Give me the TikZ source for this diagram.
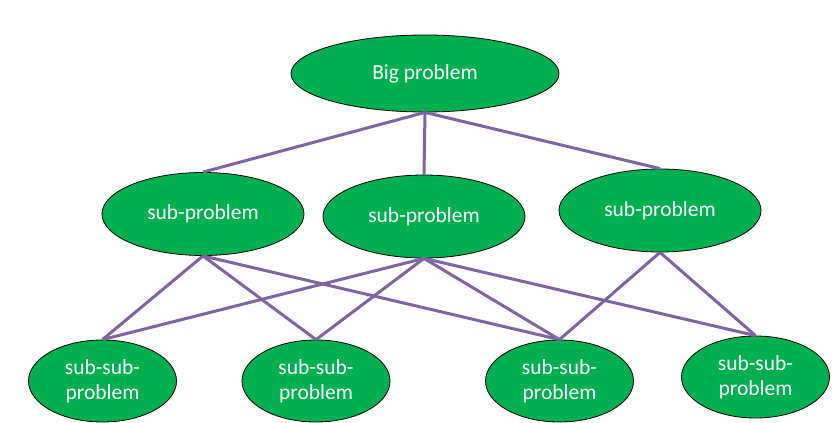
\documentclass[tikz,border=0pt]{standalone}
\usepackage{fontspec}
\setmainfont{Carlito}
\usetikzlibrary{shapes.geometric}
\definecolor{nodegreen}{HTML}{00B050}
\definecolor{linkpurple}{HTML}{8064A2}
\tikzset{
  blob/.style={ellipse, draw=black, line width=0.8pt, fill=nodegreen, text=white, inner sep=0pt,
    font=\fontsize{21.5}{25}\selectfont, align=center},
  bigblob/.style={blob, minimum width=268pt, minimum height=77pt},
  midblob/.style={blob, minimum width=202pt, minimum height=83pt},
  smallblob/.style={blob, minimum width=148pt, minimum height=82pt},
  link/.style={draw=linkpurple, line width=3pt}
}
\begin{document}
\begin{tikzpicture}[x=1pt,y=-1pt]
\useasboundingbox (0,0) rectangle (836,423);
\node[bigblob] (big) at (425,73.5) {Big problem};
\node[midblob] (s1) at (203,214) {sub-problem};
\node[midblob] (s2) at (424,216.5) {sub-problem};
\node[midblob] (s3) at (660,210.5) {sub-problem};
\node[smallblob] (a) at (102.5,381) {sub-sub-\\problem};
\node[smallblob] (b) at (316,381) {sub-sub-\\problem};
\node[smallblob] (c) at (559.5,381) {sub-sub-\\problem};
\node[smallblob] (d) at (755.5,377) {sub-sub-\\problem};
\path[link] (big.south) -- (s1.north);
\path[link] (big.south) -- (s2.north);
\path[link] (big.south) -- (s3.north);
\path[link] (s1.south) -- (a.north);
\path[link] (s1.south) -- (b.north);
\path[link] (s1.south) -- (c.north);
\path[link] (s2.south) -- (a.north);
\path[link] (s2.south) -- (b.north);
\path[link] (s2.south) -- (c.north);
\path[link] (s2.south) -- (d.north);
\path[link] (s3.south) -- (c.north);
\path[link] (s3.south) -- (d.north);
\end{tikzpicture}
\end{document}
